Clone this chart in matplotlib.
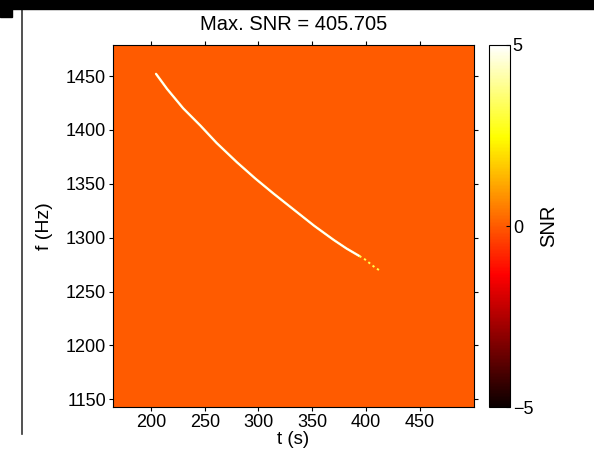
import numpy as np
import matplotlib
matplotlib.use('Agg')
import matplotlib.pyplot as plt
from matplotlib.patches import Rectangle
from matplotlib.lines import Line2D

plt.rcParams['font.family'] = ['Liberation Sans', 'DejaVu Sans']

# data
t_lim = [164.6, 500.7]
f_lim = [1142.9, 1478.8]
t_track = [204.7, 215, 230, 246, 261, 280, 297, 314, 333, 352, 370, 382, 394]
f_track = [1452, 1438, 1420, 1404, 1388, 1370, 1355, 1341, 1326, 1311, 1298, 1290, 1283]
t_tail = [394, 399, 404, 409, 414]
f_tail = [1283, 1280, 1276, 1272, 1269]
snr_track = 5
snr_tail = 3.2
snr_max = 405.705
x_ticks = [200, 250, 300, 350, 400, 450]
y_ticks = [1150, 1200, 1250, 1300, 1350, 1400, 1450]

fig = plt.figure(figsize=(5.94, 4.54), dpi=100)
ax = fig.add_axes([0.1902, 0.1035, 0.6077, 0.7974])
cax = fig.add_axes([0.8232, 0.1035, 0.0354, 0.7974])

cmap = plt.get_cmap('hot')
norm = matplotlib.colors.Normalize(vmin=-5, vmax=5)
background = np.zeros((2, 2))
im = ax.imshow(background, cmap=cmap, norm=norm, aspect='auto', origin='lower',
               extent=[t_lim[0], t_lim[1], f_lim[0], f_lim[1]], interpolation='nearest')

ax.plot(t_track, f_track, color=cmap(norm(4.3)), lw=1.7, solid_capstyle='round')
ax.plot(t_track, f_track, color=cmap(norm(snr_track)), lw=1.1, solid_capstyle='round')
ax.plot(t_tail, f_tail, color=cmap(norm(snr_tail)), lw=1.4, ls=(0, (1.2, 1.6)))

ax.set_xlim(t_lim)
ax.set_ylim(f_lim)
ax.set_xticks(x_ticks)
ax.set_yticks(y_ticks)
ax.tick_params(direction='out', length=3, width=0.8, labelsize=13,
               top=True, right=True, pad=2)
ax.set_xlabel('t (s)', fontsize=13.5, labelpad=0)
ax.set_ylabel('f (Hz)', fontsize=14, labelpad=9)
ax.set_title('Max. SNR = %.3f' % snr_max, fontsize=14.5, pad=11)

cb = fig.colorbar(im, cax=cax, ticks=[-5, 0, 5])
cb.ax.tick_params(direction='in', length=3, width=0.8, labelsize=13, pad=2)
cb.ax.set_yticklabels(['\u22125', '0', '5'])
cb.set_label('SNR', fontsize=14.5, labelpad=4)

# border artifacts from the original screenshot
fig.patches.append(Rectangle((0, 1 - 9 / 454), 1, 9 / 454, transform=fig.transFigure,
                             color='black', zorder=10))
fig.patches.append(Rectangle((0, 1 - 17 / 454), 12 / 594, 17 / 454, transform=fig.transFigure,
                             color='black', zorder=10))
fig.lines.append(Line2D([22 / 594, 22 / 594], [1 - 434 / 454, 1 - 9 / 454],
                        transform=fig.transFigure, color='#333333', lw=1.2))

fig.savefig('out.png', dpi=100)
